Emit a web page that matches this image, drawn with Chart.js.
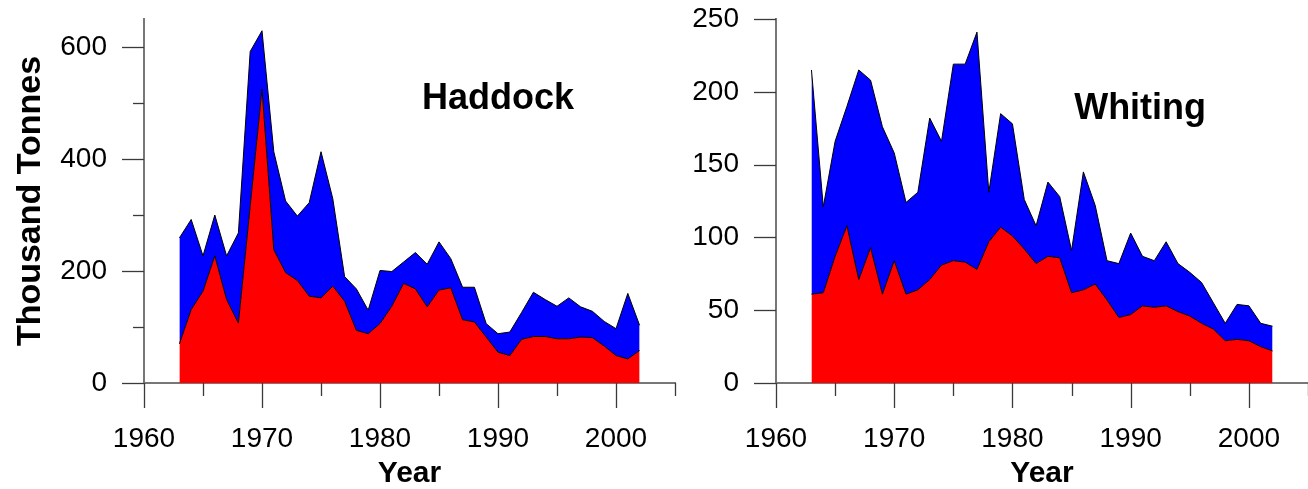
<!DOCTYPE html>
<html>
<head>
<meta charset="utf-8">
<script src="https://cdn.jsdelivr.net/npm/chart.js@4/dist/chart.umd.min.js"></script>
<style>
  html, body { margin: 0; padding: 0; background: #fff; overflow: hidden; }
  #wrap { position: relative; width: 1308px; height: 489px; }
  canvas { position: absolute; top: 0; }
  #c1 { left: 0; }
  #c2 { left: 690px; }
</style>
</head>
<body>
<div id="wrap">
  <canvas id="c1" width="690" height="489"></canvas>
  <canvas id="c2" width="618" height="489"></canvas>
</div>
<script>
// ---- Data (thousand tonnes) ----
const years = [1963,1964,1965,1966,1967,1968,1969,1970,1971,1972,1973,1974,1975,1976,1977,1978,1979,1980,1981,1982,
               1983,1984,1985,1986,1987,1988,1989,1990,1991,1992,1993,1994,1995,1996,1997,1998,1999,2000,2001,2002];

// Haddock: red = lower component, total = top of blue band
const haddockRed   = [70,131,164,227,149,107,316,525,238,197,183,155,152,173,146,94,88,106,137,178,
                      168,136,166,170,113,109,82,55,49,78,83,83,79,79,82,81,66,49,43,58];
const haddockTotal = [259,292,227,300,227,268,592,629,413,325,298,322,413,329,190,168,130,201,199,216,
                      233,212,252,222,171,171,106,88,91,126,162,149,137,152,136,128,110,97,160,103];

// Whiting
const whitingRed   = [61,62,87,108,71,93,61,84,61,64,71,81,84,83,78,97,107,101,92,82,
                      87,86,62,64,68,57,45,47,53,52,53,49,46,41,37,29,30,29,25,22];
const whitingTotal = [215,121,166,190,215,208,176,158,124,131,182,166,219,219,241,131,185,178,126,108,
                      138,128,91,145,122,84,82,103,87,84,97,82,76,69,55,41,54,53,41,39];

// Axis settings
const xMin = 1960, xMax = 2005, xStep = 5, xLabelEvery = 10;
const haddockYMax = 650, haddockYStep = 100, haddockYLabelEvery = 200;
const whitingYMax = 250, whitingYStep = 25, whitingYLabelEvery = 50;

const FONT = "'Liberation Sans', Arial, Helvetica, sans-serif";
Chart.defaults.font.family = FONT;
Chart.defaults.color = '#000';

function pts(xs, ys) { return xs.map((x, i) => ({x: x, y: ys[i]})); }

function noScalePadding(s) {
  s.paddingLeft = 0; s.paddingRight = 0; s.paddingTop = 0; s.paddingBottom = 0;
}

// Draw the major/minor tick marks through the chart's own scales
const tickMarks = {
  id: 'tickMarks',
  afterDraw(chart, args, opts) {
    const ctx = chart.ctx, xs = chart.scales.x, ys = chart.scales.y;
    ctx.save();
    ctx.strokeStyle = '#3a3a3a';
    ctx.lineWidth = 1.3;
    xs.ticks.forEach(t => {
      const px = Math.round(xs.getPixelForValue(t.value)) + 0.5;
      const major = t.value % opts.xMajor === 0;
      ctx.beginPath();
      ctx.moveTo(px, xs.top);
      ctx.lineTo(px, xs.top + (major ? 25 : 13));
      ctx.stroke();
    });
    ys.ticks.forEach(t => {
      const py = Math.round(ys.getPixelForValue(t.value)) + 0.5;
      const major = t.value % opts.yMajor === 0;
      ctx.beginPath();
      ctx.moveTo(ys.right, py);
      ctx.lineTo(ys.right - (major ? 22 : 11), py);
      ctx.stroke();
    });
    ctx.restore();
  }
};

// Species name placed in data coordinates
const speciesLabel = {
  id: 'speciesLabel',
  afterDatasetsDraw(chart, args, opts) {
    const ctx = chart.ctx;
    const px = chart.scales.x.getPixelForValue(opts.x);
    const py = chart.scales.y.getPixelForValue(opts.y);
    ctx.save();
    ctx.font = "bold 36px " + FONT;
    ctx.fillStyle = '#000';
    ctx.textAlign = 'center';
    ctx.textBaseline = 'alphabetic';
    ctx.fillText(opts.text, px, py);
    ctx.restore();
  }
};

function makeChart(id, red, total, yMax, yStep, yLabelEvery, yAxisWidth, rightPad, yTitle, label) {
  return new Chart(document.getElementById(id), {
    type: 'line',
    data: {
      datasets: [
        { data: pts(years, red), fill: 'origin', backgroundColor: '#ff0000',
          borderColor: '#000', borderWidth: 1, pointRadius: 0, tension: 0 },
        { data: pts(years, total), fill: '-1', backgroundColor: '#0000ff',
          borderColor: '#000', borderWidth: 1, pointRadius: 0, tension: 0 }
      ]
    },
    options: {
      responsive: false,
      animation: false,
      devicePixelRatio: 1,
      layout: { padding: { top: 19, right: rightPad, left: 0, bottom: 0 } },
      plugins: {
        legend: { display: false },
        tooltip: { enabled: false },
        tickMarks: { xMajor: xLabelEvery, yMajor: yLabelEvery },
        speciesLabel: label
      },
      scales: {
        x: {
          type: 'linear', min: xMin, max: xMax,
          grid: { display: false, drawTicks: false },
          border: { display: true, color: '#777', width: 2 },
          ticks: {
            stepSize: xStep, autoSkip: false, maxRotation: 0, padding: 39,
            font: { size: 28 }, color: '#000',
            callback: v => (v % xLabelEvery === 0 ? String(v) : '')
          },
          title: { display: true, text: 'Year', font: { size: 30, weight: 'bold' },
                   padding: { top: 0, bottom: -3 }, color: '#000' },
          afterFit: s => { s.height = 106; noScalePadding(s); }
        },
        y: {
          type: 'linear', min: 0, max: yMax,
          grid: { display: false, drawTicks: false },
          border: { display: true, color: '#777', width: 2 },
          ticks: {
            stepSize: yStep, includeBounds: false, padding: 37,
            font: { size: 28 }, color: '#000',
            callback: v => (v % yLabelEvery === 0 ? String(v) : '')
          },
          title: { display: !!yTitle, text: yTitle || '', font: { size: 34, weight: 'bold' },
                   padding: { top: 10, bottom: 0 }, color: '#000' },
          afterFit: s => { s.width = yAxisWidth; noScalePadding(s); }
        }
      }
    },
    plugins: [tickMarks, speciesLabel]
  });
}

makeChart('c1', haddockRed, haddockTotal, haddockYMax, haddockYStep, haddockYLabelEvery, 144, 15,
          'Thousand Tonnes', { text: 'Haddock', x: 1990, y: 490 });
makeChart('c2', whitingRed, whitingTotal, whitingYMax, whitingYStep, whitingYLabelEvery, 86, 0,
          null, { text: 'Whiting', x: 1990.8, y: 181.5 });
</script>
</body>
</html>
